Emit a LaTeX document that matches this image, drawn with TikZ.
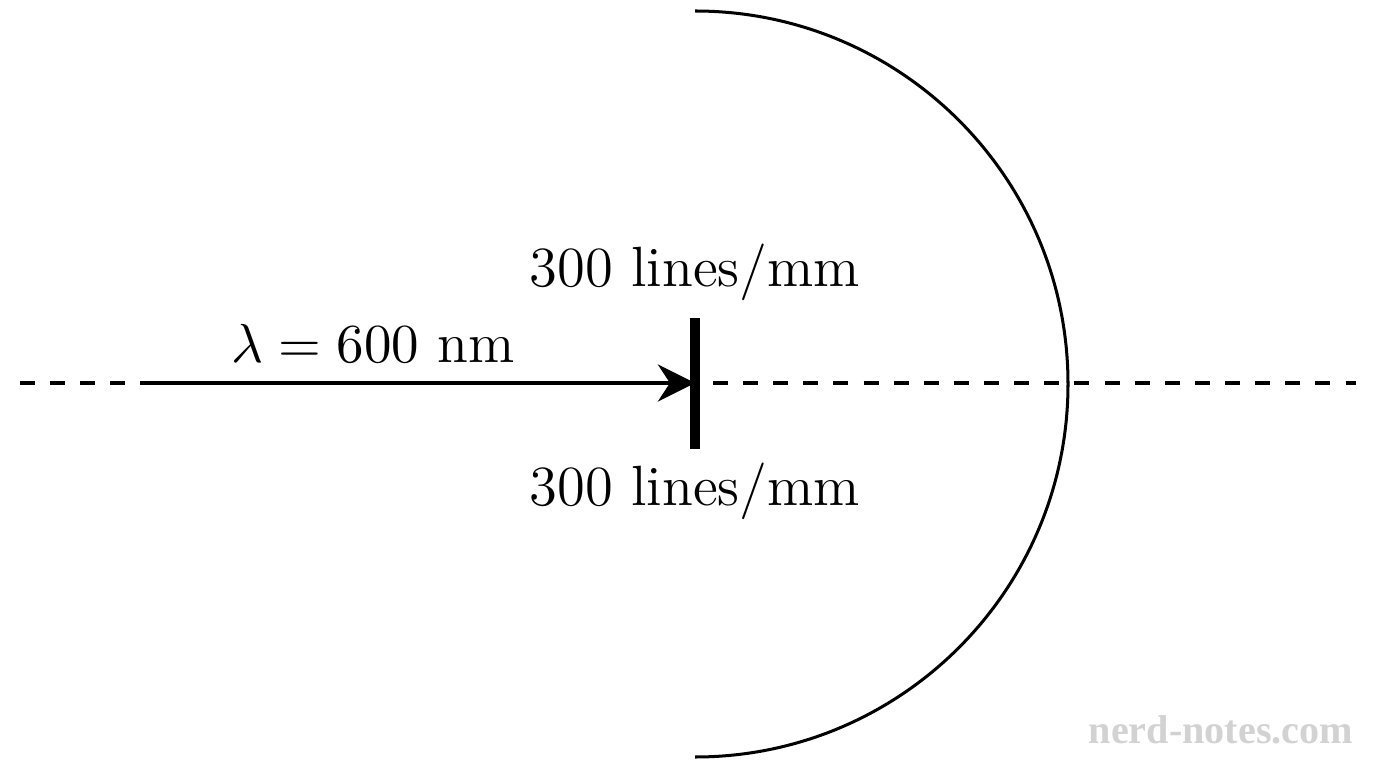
\documentclass[tikz,border=0pt]{standalone}
\usepackage{fontspec}
\usetikzlibrary{arrows.meta}
\newfontfamily\markfont{Liberation Serif}
\tikzset{
  label11/.style={font=\fontsize{11.3}{13}\selectfont},
  axisline/.style={semithick, dashed},
  beam/.style={thick, -{Stealth[length=2.6mm,width=2.6mm]}},
}
\begin{document}
\begin{tikzpicture}[scale=0.7]
    \useasboundingbox (-6.95,-3.85) rectangle (6.81,3.83);

    \coordinate (axisL) at (-6.75,0);
    \coordinate (axisR) at (6.61,0);
    \coordinate (src) at (-5.50,0);
    \coordinate (grating) at (0,0);
    \coordinate (gtop) at (0,0.65);
    \coordinate (gbot) at (0,-0.66);
    \coordinate (arctop) at (0,3.72);

    \draw [axisline] (axisL)--(axisR);
    \draw [semithick] (arctop) arc (90:-90:3.73);
    \draw [beam] (src)--(grating);
    \draw [line width=2pt] (gtop)--(gbot);

    \node[label11] (lam) at (-3.22,0.40) {$\lambda = 600$ nm};
    \node[label11] (upper) at (0.0,1.11) {300 lines/mm};
    \node[label11] (lower) at (0.0,-1.08) {300 lines/mm};
    \node[text=gray!35, font=\markfont\bfseries\fontsize{8}{10}\selectfont] (mark) at (5.26,-3.47) {nerd-notes.com};
\end{tikzpicture}
\end{document}
